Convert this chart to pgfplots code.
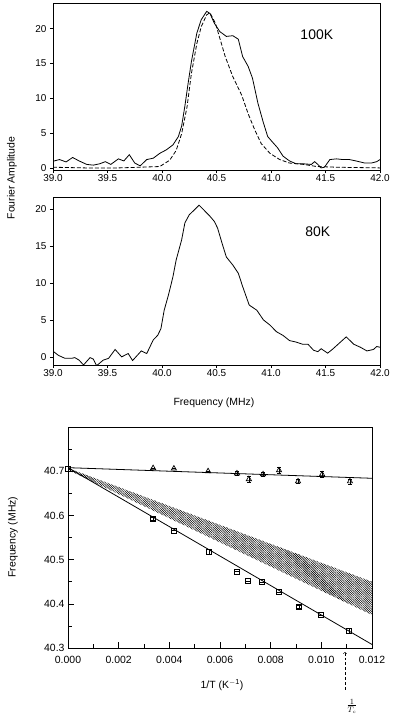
\documentclass[border=0pt]{standalone}
\usepackage{fontspec}
\setmainfont{Liberation Sans}
\usepackage{pgfplots}
\pgfplotsset{compat=1.18}
\usetikzlibrary{patterns.meta}

\pgfplotstableread{
f A
39.00 0.96
39.06 1.2
39.12 0.86
39.18 1.5
39.24 1.0
39.31 0.5
39.37 0.4
39.43 0.6
39.48 0.9
39.53 0.5
39.60 1.3
39.65 1.0
39.70 1.9
39.75 0.7
39.80 0.3
39.86 1.2
39.92 1.4
39.98 2.1
40.04 2.6
40.10 3.3
40.15 4.5
40.18 6.0
40.21 8.9
40.24 12.2
40.27 15.3
40.32 19.4
40.36 21.3
40.41 22.5
40.44 22.2
40.48 20.8
40.53 19.6
40.59 18.9
40.65 19.0
40.70 18.5
40.74 16.0
40.79 14.6
40.83 12.9
40.88 9.3
40.93 6.5
40.97 4.5
41.02 3.6
41.06 2.9
41.11 1.7
41.17 1.0
41.23 0.6
41.29 0.6
41.37 0.5
41.40 0.9
41.43 0.5
41.46 0.0
41.49 0.1
41.54 1.2
41.60 1.3
41.66 1.2
41.72 1.2
41.78 1.0
41.86 0.7
41.92 0.7
41.97 0.9
42.00 1.2
}\topsolid

\pgfplotstableread{
f A
39.00 0.1
39.30 0.0
39.60 0.0
39.80 0.1
39.98 0.2
40.07 1.1
40.13 2.5
40.18 4.9
40.23 8.8
40.27 13.6
40.32 17.9
40.36 20.3
40.41 22.0
40.44 22.3
40.49 20.8
40.52 19.2
40.58 16.0
40.65 13.1
40.73 10.5
40.79 7.8
40.85 5.5
40.91 3.5
40.99 2.1
41.08 1.2
41.17 0.7
41.30 0.5
41.42 0.2
41.60 0.1
42.00 0.0
}\topdashed

\pgfplotstableread{
f A
39.00 0.77
39.05 0.2
39.11 -0.2
39.17 -0.2
39.20 -0.1
39.24 -0.45
39.28 -1.1
39.34 -0.1
39.37 -0.3
39.40 -1.2
39.46 -0.45
39.51 -0.2
39.57 1.0
39.63 0.0
39.69 0.45
39.73 -0.5
39.81 0.8
39.86 0.45
39.92 2.3
39.96 2.9
39.99 3.8
40.02 6.3
40.06 8.4
40.10 10.8
40.13 13.1
40.18 15.8
40.21 18.1
40.25 19.2
40.30 19.9
40.34 20.5
40.38 19.9
40.44 19.0
40.48 18.3
40.51 17.4
40.55 15.4
40.59 13.5
40.65 12.4
40.70 11.3
40.74 9.5
40.80 7.0
40.87 6.3
40.93 5.0
40.99 4.3
41.05 3.4
41.11 2.9
41.17 2.2
41.23 2.0
41.29 1.7
41.34 1.7
41.39 0.9
41.43 0.7
41.46 1.1
41.52 0.5
41.57 1.1
41.63 1.9
41.69 2.7
41.76 1.7
41.82 1.3
41.88 0.8
41.94 1.0
41.97 1.4
42.00 1.3
}\midcurve

\pgfplotstableread{
x y e
0.00336 40.707 0
0.00418 40.706 0
0.00553 40.700 0
0.00667 40.695 0.004
0.00714 40.682 0.006
0.00770 40.693 0.005
0.00833 40.702 0.006
0.00908 40.677 0.005
0.01003 40.693 0.006
0.01113 40.677 0.006
}\tri

\pgfplotstableread{
x y e
0.00000 40.705 0
0.00336 40.593 0.004
0.00418 40.566 0
0.00557 40.518 0.005
0.00667 40.473 0
0.00710 40.452 0
0.00766 40.450 0
0.00833 40.427 0
0.00912 40.393 0.004
0.00999 40.375 0
0.01110 40.339 0.005
}\sq

\pgfplotsset{
  spec/.style={
    scale only axis, width=327bp,
    xmin=39, xmax=42,
    xtick={39,39.5,40,40.5,41,41.5,42},
    ytick={0,5,10,15,20},
    xtick pos=bottom, ytick pos=left,
    tick align=outside,
    major tick length=3bp,
    axis line style={line width=0.8pt},
    every tick/.style={black, line width=0.6pt},
    tick label style={font=\fontsize{10}{11}\selectfont},
    xticklabel style={inner sep=1bp,
      /pgf/number format/.cd, fixed, fixed zerofill, precision=1},
    /pgf/number format/assume math mode=true,
  },
}

\begin{document}
\begin{tikzpicture}
\path[use as bounding box] (0,0) rectangle (393bp,-720bp);

% ---------- 100 K ----------
\begin{axis}[spec, at={(53bp,-170bp)}, anchor=south west,
  height=167bp, ymin=-0.3, ymax=23.7]
\addplot[black, line width=0.8pt] table[x=f,y=A] {\topsolid};
\addplot[black, line width=0.8pt, dash pattern=on 4pt off 2pt] table[x=f,y=A] {\topdashed};
\node[font=\fontsize{14}{16}\selectfont] at (axis cs:41.42,19.1) {100K};
\end{axis}

% ---------- 80 K ----------
\begin{axis}[spec, at={(53bp,-365bp)}, anchor=south west,
  height=168bp, ymin=-1.1, ymax=21.6]
\addplot[black, line width=0.8pt] table[x=f,y=A] {\midcurve};
\node[font=\fontsize{14}{16}\selectfont] at (axis cs:41.43,16.9) {80K};
\end{axis}

\node[rotate=90, font=\fontsize{10.5}{12}\selectfont] at (12bp,-178bp) {Fourier Amplitude};
\node[font=\fontsize{10.5}{12}\selectfont] at (214bp,-403bp) {Frequency (MHz)};

% ---------- frequency vs 1/T ----------
\begin{axis}[at={(68bp,-648bp)}, anchor=south west,
  scale only axis, width=304bp, height=221bp,
  xmin=0, xmax=0.012, ymin=40.3, ymax=40.8,
  xtick={0,0.002,0.004,0.006,0.008,0.010,0.012},
  minor xtick={0.001,0.003,0.005,0.007,0.009,0.011},
  ytick={40.3,40.4,40.5,40.6,40.7},
  minor ytick={40.35,40.45,40.55,40.65,40.75},
  scaled x ticks=false,
  xtick pos=bottom, ytick pos=left,
  tick align=inside,
  major tick length=6bp, minor tick length=4bp,
  axis line style={line width=0.8pt},
  every tick/.style={black, line width=0.6pt},
  tick label style={font=\fontsize{10.5}{12}\selectfont},
  xticklabel style={yshift=-5bp,
    /pgf/number format/.cd, fixed, fixed zerofill, precision=3},
  yticklabel style={/pgf/number format/.cd, fixed, fixed zerofill, precision=1},
  /pgf/number format/assume math mode=true,
]
\addplot[draw=none, pattern={Lines[angle=-45,distance=1.6pt,line width=0.55pt]}]
  coordinates {(0,40.707) (0.012,40.450) (0.012,40.375) (0,40.703)} -- cycle;
\addplot[black, line width=0.8pt] coordinates {(0,40.708) (0.012,40.684)};
\addplot[black, line width=0.8pt] coordinates {(0,40.708) (0.012,40.308)};
\addplot[only marks, mark=triangle, mark size=3bp, black,
  mark options={line width=0.7pt, fill=white},
  error bars/.cd, y dir=both, y explicit,
  error bar style={line width=0.7pt}, error mark options={rotate=90, mark size=2bp}]
  table[x=x, y=y, y error=e] {\tri};
\addplot[only marks, mark=square, mark size=2.5bp, black,
  mark options={line width=0.7pt, fill=white},
  error bars/.cd, y dir=both, y explicit,
  error bar style={line width=0.7pt}, error mark options={rotate=90, mark size=2bp}]
  table[x=x, y=y, y error=e] {\sq};
\end{axis}

\node[rotate=90, font=\fontsize{10.5}{12}\selectfont] at (13bp,-537bp) {Frequency (MHz)};
\node[font=\fontsize{10.5}{12}\selectfont] at (222bp,-685bp) {1/T (K$^{\mathrm{-1}}$)};

% 1/Tc annotation
\draw[densely dashed, line width=0.5pt, <-] (345bp,-652bp) -- (345bp,-692bp);
\node[font=\fontsize{11}{12}\selectfont, inner sep=0pt] at (352bp,-706bp) {$\frac{1}{T_c}$};
\end{tikzpicture}
\end{document}
